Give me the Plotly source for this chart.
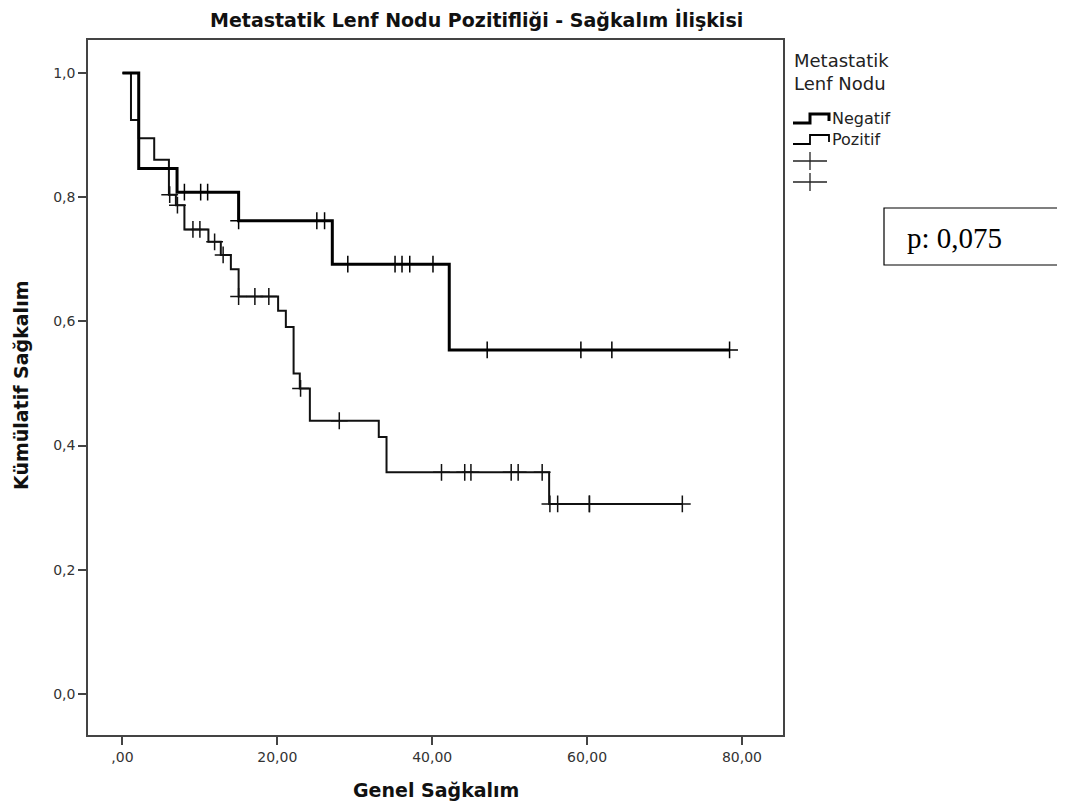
import plotly.graph_objects as go

# ---- data (Kaplan-Meier steps) ----
neg_times = [0, 2.1, 7.05, 15.0, 27.1, 42.2]
neg_surv = [1.0, 0.846, 0.808, 0.762, 0.692, 0.554]
neg_end = 78.4
neg_censor = [8.0, 10.1, 11.0, 15.0, 25.1, 26.1, 29.1, 35.2, 36.1, 37.1, 40.1,
              47.1, 59.2, 63.2, 78.4]

poz_times = [0, 1.1, 2.1, 4.1, 6.0, 6.9, 8.0, 11.1, 12.7, 14.0, 15.0, 20.1,
             21.1, 22.1, 22.9, 24.2, 33.1, 34.1, 55.1]
poz_surv = [1.0, 0.924, 0.895, 0.860, 0.804, 0.787, 0.748, 0.728, 0.707, 0.684,
            0.640, 0.617, 0.591, 0.516, 0.492, 0.440, 0.414, 0.357, 0.306]
poz_end = 72.3
poz_censor = [6.1, 7.1, 9.1, 10.0, 11.9, 13.0, 15.0, 17.1, 18.9, 23.0, 28.0,
              41.2, 44.2, 45.0, 50.2, 51.1, 54.2, 55.2, 56.2, 60.3, 60.3, 72.3]

x_ticks = [0, 20, 40, 60, 80]
x_ticklabels = [",00", "20,00", "40,00", "60,00", "80,00"]
y_ticks = [0.0, 0.2, 0.4, 0.6, 0.8, 1.0]
y_ticklabels = ["0,0", "0,2", "0,4", "0,6", "0,8", "1,0"]

title_text = "Metastatik Lenf Nodu Pozitifliği - Sağkalım İlişkisi"
x_title = "Genel Sağkalım"
y_title = "Kümülatif Sağkalım"
legend_title = "Metastatik<br>Lenf Nodu"
group_names = ["Negatif", "Pozitif"]
p_text = "p: 0,075"


def step_xy(times, surv, end):
    return times + [end], surv + [surv[-1]]


def surv_at(times, surv, t):
    s = surv[0]
    for ti, si in zip(times, surv):
        if ti <= t:
            s = si
    return s


fig = go.Figure()

# Pozitif (thin)
px_, py_ = step_xy(poz_times, poz_surv, poz_end)
fig.add_trace(go.Scatter(x=px_, y=py_, mode="lines", line_shape="hv",
                         line=dict(color="#111", width=2), name=group_names[1],
                         showlegend=False))
fig.add_trace(go.Scatter(x=poz_censor, y=[surv_at(poz_times, poz_surv, t) for t in poz_censor],
                         mode="markers",
                         marker=dict(symbol="cross-thin", size=12,
                                     line=dict(color="#111", width=1.5)),
                         name=group_names[1] + "-censored", showlegend=False))

# Negatif (thick)
nx_, ny_ = step_xy(neg_times, neg_surv, neg_end)
fig.add_trace(go.Scatter(x=nx_, y=ny_, mode="lines", line_shape="hv",
                         line=dict(color="#000", width=3), name=group_names[0],
                         showlegend=False))
fig.add_trace(go.Scatter(x=neg_censor, y=[surv_at(neg_times, neg_surv, t) for t in neg_censor],
                         mode="markers",
                         marker=dict(symbol="cross-thin", size=12,
                                     line=dict(color="#000", width=1.5)),
                         name=group_names[0] + "-censored", showlegend=False))

# ---- layout geometry (screen pixels; page body adds an 8px offset) ----
OFF = 8
W, H = 1065 - OFF, 811 - OFF
L, R, T, B = 88, 783, 40, 735


def pxp(xp):
    return (xp - L) / (R - L)


def pyp(yp):
    return (B - yp) / (B - T)


font_family = "DejaVu Sans, Liberation Sans, sans-serif"
tick_font = dict(family=font_family, size=14, color="#333")

axis_common = dict(showline=True, mirror=True, linecolor="#444", linewidth=1.5,
                   ticks="outside", ticklen=8, tickwidth=1.5, tickcolor="#444",
                   showgrid=False, zeroline=False, tickfont=tick_font)

shapes = []
annotations = []

# legend: step icons
for i, (ycen, lw) in enumerate([(118, 3), (139, 1.8)]):
    path = (f"M {pxp(793)},{pyp(ycen + 5)} L {pxp(810)},{pyp(ycen + 5)} "
            f"L {pxp(810)},{pyp(ycen - 4)} L {pxp(829)},{pyp(ycen - 4)} "
            f"L {pxp(829)},{pyp(ycen + 3)}")
    shapes.append(dict(type="path", path=path, xref="paper", yref="paper",
                       line=dict(color="#000", width=lw)))
    annotations.append(dict(x=pxp(830), y=pyp(ycen), xref="paper", yref="paper",
                            text=group_names[i], showarrow=False, xanchor="left",
                            yanchor="middle",
                            font=dict(family=font_family, size=16, color="#222")))
# legend: censor crosses
for ycen in [161, 182]:
    shapes.append(dict(type="line", xref="paper", yref="paper",
                       x0=pxp(793), x1=pxp(827), y0=pyp(ycen), y1=pyp(ycen),
                       line=dict(color="#222", width=1.3)))
    shapes.append(dict(type="line", xref="paper", yref="paper",
                       x0=pxp(810), x1=pxp(810), y0=pyp(ycen - 9), y1=pyp(ycen + 9),
                       line=dict(color="#222", width=1.3)))

annotations.append(dict(x=pxp(792), y=pyp(72), xref="paper", yref="paper",
                        text=legend_title, showarrow=False, xanchor="left",
                        yanchor="middle", align="left",
                        font=dict(family=font_family, size=18, color="#222")))

# p-value box
shapes.append(dict(type="rect", xref="paper", yref="paper",
                   x0=pxp(884), x1=pxp(1063), y0=pyp(208), y1=pyp(265),
                   line=dict(color="#000", width=1.2), fillcolor="rgba(0,0,0,0)"))
annotations.append(dict(x=pxp(905), y=pyp(238), xref="paper", yref="paper",
                        text=p_text, showarrow=False, xanchor="left", yanchor="middle",
                        font=dict(family="Liberation Serif, Times New Roman, serif",
                                  size=29, color="#000")))

# titles
annotations.append(dict(x=pxp(476), y=pyp(20), xref="paper", yref="paper",
                        text="<b>" + title_text + "</b>", showarrow=False,
                        xanchor="center", yanchor="middle",
                        font=dict(family=font_family, size=19, color="#111")))
annotations.append(dict(x=pxp(436), y=pyp(790), xref="paper", yref="paper",
                        text="<b>" + x_title + "</b>", showarrow=False,
                        xanchor="center", yanchor="middle",
                        font=dict(family=font_family, size=19, color="#111")))
annotations.append(dict(x=pxp(21), y=pyp(386), xref="paper", yref="paper",
                        text="<b>" + y_title + "</b>", showarrow=False, textangle=-90,
                        xanchor="center", yanchor="middle",
                        font=dict(family=font_family, size=19, color="#111")))

fig.update_layout(
    width=W, height=H,
    margin=dict(l=L - OFF, r=W - (R - OFF), t=T - OFF, b=H - (B - OFF), pad=0),
    paper_bgcolor="white", plot_bgcolor="white",
    showlegend=False,
    xaxis=dict(range=[-4.45, 85.3], tickvals=x_ticks, ticktext=x_ticklabels,
               **axis_common),
    yaxis=dict(range=[-0.066, 1.053], tickvals=y_ticks, ticktext=y_ticklabels,
               **axis_common),
    shapes=shapes,
    annotations=annotations,
)

fig.write_html("out.html")
